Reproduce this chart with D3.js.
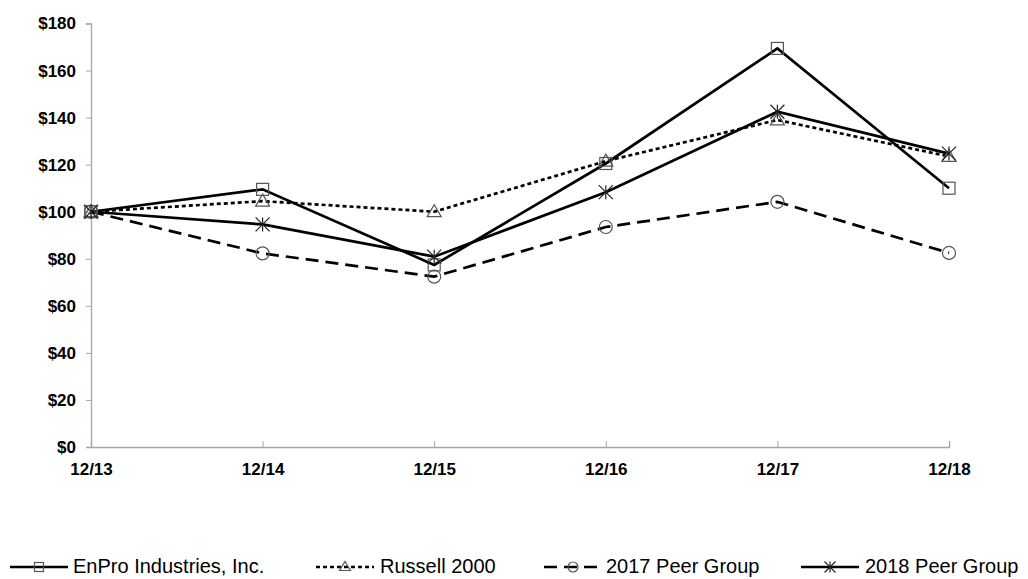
<!DOCTYPE html>
<html>
<head>
<meta charset="utf-8">
<script src="https://cdn.jsdelivr.net/npm/d3@7"></script>
<style>
  body { margin: 0; background: #fff; }
  text { font-family: Arial, "Liberation Sans", sans-serif; }
</style>
</head>
<body>
<div id="chart"></div>
<script>
// Data
const periods = ["12/13", "12/14", "12/15", "12/16", "12/17", "12/18"];
const enpro = [100, 109.5, 77.4, 120.5, 169.4, 110];
const russell = [100, 104.5, 100, 121.5, 139, 123.5];
const peer2017 = [100, 82.3, 72.4, 93.5, 104.2, 82.5];
const peer2018 = [100, 94.6, 80.9, 108.3, 142.5, 124.7];
const yTicks = [0, 20, 40, 60, 80, 100, 120, 140, 160, 180];

const series = [
    { name: "EnPro Industries, Inc.", values: enpro, dash: null, marker: "square" },
    { name: "Russell 2000", values: russell, dash: "4,3", marker: "triangle" },
    { name: "2017 Peer Group", values: peer2017, dash: "13,7", marker: "circle" },
    { name: "2018 Peer Group", values: peer2018, dash: null, marker: "star" }
];

const width = 1028;
const height = 579;

const svg = d3.select("#chart")
    .append("svg")
    .attr("width", width)
    .attr("height", height);

// Scales
const x = d3.scalePoint()
    .domain(periods)
    .range([91, 949]);

const y = d3.scaleLinear()
    .domain([0, 180])
    .range([447, 23.5]);

// Axes
const yAxis = svg.append("g")
    .attr("transform", "translate(91,0)")
    .call(d3.axisLeft(y).tickValues(yTicks).tickSize(5).tickPadding(10).tickFormat(d => "$" + d));

const xAxis = svg.append("g")
    .attr("transform", "translate(0,447)")
    .call(d3.axisBottom(x).tickSize(-6).tickPadding(16));

[yAxis, xAxis].forEach(g => {
    g.select(".domain").attr("stroke", "#a6a6a6").attr("stroke-width", 1.3);
    g.selectAll(".tick line").attr("stroke", "#a6a6a6");
    g.selectAll(".tick text")
        .attr("fill", "#000")
        .style("font-size", "17px")
        .style("font-weight", "bold");
});

// Marker drawing
function drawMarker(g, type, cx, cy, r) {
    const s = "#555";
    if (type === "square") {
        g.append("rect").attr("x", cx - r).attr("y", cy - r).attr("width", 2 * r).attr("height", 2 * r)
            .attr("fill", "none").attr("stroke", s).attr("stroke-width", 1.2);
    } else if (type === "triangle") {
        g.append("path").attr("d", `M${cx},${cy - r - 1}L${cx + r + 1},${cy + r - 1}L${cx - r - 1},${cy + r - 1}Z`)
            .attr("fill", "none").attr("stroke", s).attr("stroke-width", 1.2);
    } else if (type === "circle") {
        g.append("circle").attr("cx", cx).attr("cy", cy).attr("r", r + 0.5)
            .attr("fill", "none").attr("stroke", s).attr("stroke-width", 1.2);
    } else if (type === "star") {
        const k = r + 1;
        g.append("path")
            .attr("d", `M${cx - k},${cy - k}L${cx + k},${cy + k}M${cx - k},${cy + k}L${cx + k},${cy - k}M${cx},${cy - k}L${cx},${cy + k}`)
            .attr("fill", "none").attr("stroke", "#222").attr("stroke-width", 1.2);
    }
}

// Lines
const line = d3.line()
    .x((d, i) => x(periods[i]))
    .y(d => y(d));

series.forEach(s => {
    svg.append("path")
        .datum(s.values)
        .attr("d", line)
        .attr("fill", "none")
        .attr("stroke", "#000")
        .attr("stroke-width", 2.7)
        .attr("stroke-dasharray", s.dash);
});

series.forEach(s => {
    const g = svg.append("g");
    s.values.forEach((v, i) => drawMarker(g, s.marker, x(periods[i]), y(v), 6));
});

// Legend
const legendX = [10, 316, 544, 801];
const legendText = [73, 380, 606, 865];
const legend = svg.append("g");
series.forEach((s, i) => {
    const lx = legendX[i];
    const ly = 567;
    const g = legend.append("g");
    g.append("line")
        .attr("x1", lx).attr("x2", lx + 58)
        .attr("y1", ly).attr("y2", ly)
        .attr("stroke", "#000")
        .attr("stroke-width", 2.4)
        .attr("stroke-dasharray", s.dash);
    drawMarker(g, s.marker, lx + 29, ly, 4.5);
    g.append("text")
        .attr("x", legendText[i])
        .attr("y", 573)
        .style("font-size", "20px")
        .text(s.name);
});
</script>
</body>
</html>
